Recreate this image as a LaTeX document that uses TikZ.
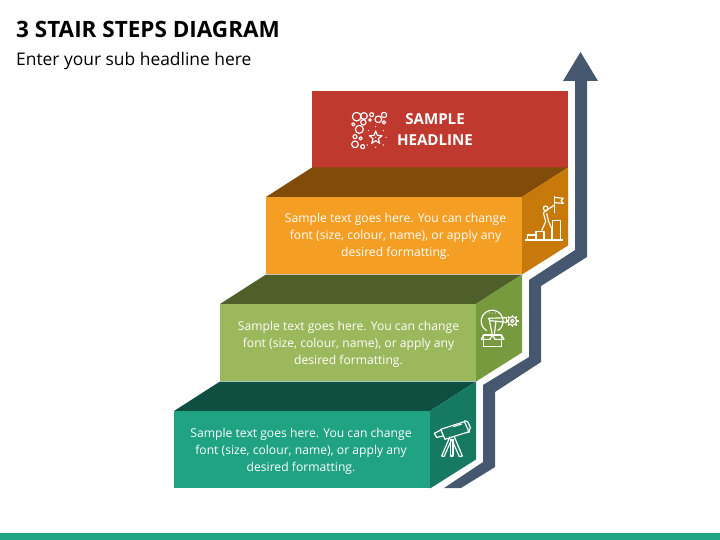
\documentclass[tikz,border=0pt]{standalone}
\usepackage{fontspec}
\setmainfont{Open Sans}
\definecolor{redfront}{HTML}{C0392F}
\definecolor{orangefront}{HTML}{F49E23}
\definecolor{orangetop}{HTML}{814C07}
\definecolor{orangeside}{HTML}{C77A09}
\definecolor{greenfront}{HTML}{9BB85C}
\definecolor{greentop}{HTML}{4F5F2A}
\definecolor{greenside}{HTML}{789A3E}
\definecolor{tealfront}{HTML}{1FA383}
\definecolor{tealtop}{HTML}{0E4F42}
\definecolor{tealside}{HTML}{167A63}
\definecolor{stairblue}{HTML}{46586F}
\tikzset{
  bodytext/.style={text=white,align=center,font=\fontsize{12.15}{17}\selectfont},
  icon/.style={draw=white,line width=1.15pt,line join=round},
}
\begin{document}
\begin{tikzpicture}[x=1pt,y=-1pt]
  \useasboundingbox (0,0) rectangle (720,540);
  \fill[tealfront] (0,533) rectangle (720,540);

  % headings
  \node[anchor=west,inner sep=0pt,font=\bfseries\fontsize{22.5}{26}\selectfont] (title) at (16,29.5) {3 STAIR STEPS DIAGRAM};
  \node[anchor=west,inner sep=0pt,font=\fontsize{17.4}{20}\selectfont] (subtitle) at (16,60.5) {Enter your sub headline here};

  % stair arrow
  \fill[stairblue] (444,488) -- (483,462) -- (483,385) -- (529,357) -- (529,280)
    -- (575,250) -- (575,81) -- (563,81) -- (580.5,52) -- (598,81) -- (587,81)
    -- (587,257) -- (541,286) -- (541,362) -- (495,392) -- (495,467) -- (461,488) -- cycle;

  % top step
  \fill[redfront] (312,91) rectangle (568,168);
  \node[text=white,align=center,font=\bfseries\fontsize{15.1}{21}\selectfont] (headline) at (435,130) {SAMPLE\\HEADLINE};

  % lower steps
  \foreach \x/\y/\n/\t/\u in {266/197/orange/395.5/236,220/304/green/348.5/344,174/411/teal/301/451}{
    \fill[\n top] (\x,\y) -- +(46,-29.5) -- +(302,-29.5) -- +(256,0) -- cycle;
    \fill[\n side] (\x+256,\y) -- +(46,-29.5) -- +(46,48.5) -- +(0,77.5) -- cycle;
    \fill[\n front] (\x,\y) rectangle +(256,77);
    \node[bodytext] (text\n) at (\t,\u) {Sample text goes here. You can change\\font (size, colour, name), or apply any\\desired formatting.};
  }

  % bubbles and star
  \begin{scope}[shift={(330,90)},scale=1/3]
    \foreach \x/\y/\r in {80/80/13,102/78/10,125/74/6,145/88/10,162/75/8,70/103/5,100/97/8,
      120/90/4,88/118/12,162/97/5,75/140/6,92/145/5,75/163/10,98/170/6}{
      \draw[icon] (\x,\y) circle (\r);
    }
    \draw[icon] (137,123) -- (142,136) -- (156,137) -- (145,146) -- (149,160) -- (137,152)
      -- (125,160) -- (129,146) -- (118,137) -- (132,136) -- cycle;
    \foreach \x/\y in {137/110,115/122,160/122,168/142,112/165,160/165,137/172,137/142}{
      \fill[white] (\x,\y) circle (2);
    }
  \end{scope}

  % flag on the steps
  \begin{scope}[shift={(500,160)},scale=1/3]
    \draw[icon] (75,240) -- (190,240);
    \draw[icon] (82,240) |- (108,225);
    \draw[icon] (108,240) |- (132,215) -- (132,240);
    \draw[icon] (158,240) |- (182,182) -- (182,240);
    \draw[icon] (163,160) -- (163,108);
    \draw[icon] (163,112) -- (190,115) -- (183,122) -- (190,130) -- (163,128);
    \draw[icon] (137,145) circle (7);
    \draw[icon] (130,158) -- (163,135);
    \draw[icon] (130,158) -- (137,185) -- (125,212);
    \draw[icon] (140,160) -- (146,185) -- (155,205) -- (155,240);
  \end{scope}

  % bulb, gear and box
  \begin{scope}[shift={(460,270)},scale=1/3]
    \draw[icon] (80,182) arc[start angle=120,end angle=420,radius=33] ;
    \draw[icon] (70,195) -- (125,195) -- (125,230) -- (70,230) -- cycle;
    \draw[icon] (70,195) -- (64,208) -- (90,208) -- (97,195) -- (105,208) -- (132,208) -- (125,195);
    \draw[icon] (85,145) -- (140,143) -- (140,157) -- (90,152) -- cycle;
    \draw[icon] (88,150) -- (97,195);
    \draw[icon] (108,152) -- (103,195);
    \draw[icon] (157,153) circle (13);
    \draw[icon] (157,153) circle (5);
    \foreach \a in {0,45,...,315}{
      \draw[icon,line width=1.5pt] (157,153) ++(\a:13) -- ++(\a:6);
    }
    \foreach \x in {88,97,106}{
      \fill[white] (\x,129) circle (1.6);
    }
  \end{scope}

  % telescope
  \begin{scope}[shift={(420,380)},scale=1/3]
    \draw[icon] (62,148) -- (133,125) -- (147,155) -- (75,178) -- cycle;
    \draw[icon] (62,150) -- (43,160) -- (50,172) -- (70,168);
    \draw[icon] (133,122) -- (143,125) -- (151,142) -- (147,157) -- (139,158);
    \draw[icon] (90,170) -- (65,228) -- (72,230) -- (95,178) -- (118,230) -- (127,228) -- (102,168);
    \draw[icon] (92,178) -- (92,228) -- (99,228) -- (99,178);
    \draw[icon] (100,140) -- (125,132);
  \end{scope}
\end{tikzpicture}
\end{document}
